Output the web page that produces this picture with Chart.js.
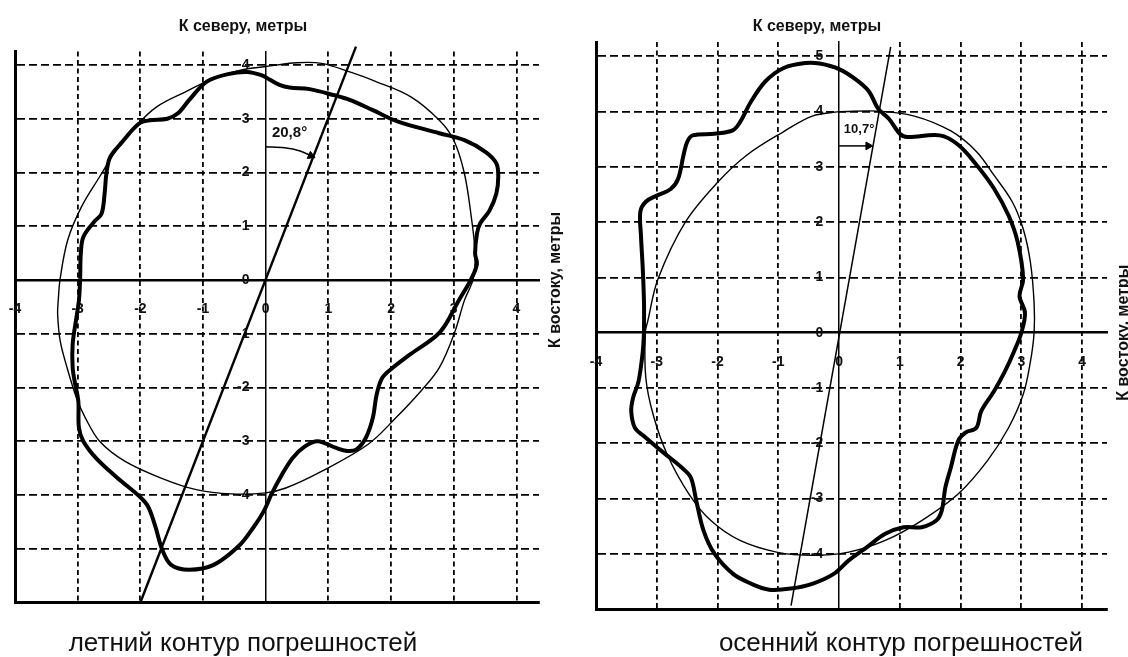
<!DOCTYPE html>
<html lang="ru">
<head>
<meta charset="utf-8">
<title>Контуры погрешностей</title>
<script src="https://cdn.jsdelivr.net/npm/chart.js@4.4.1/dist/chart.umd.min.js"></script>
<style>
  html, body { margin: 0; padding: 0; background: #fff; }
  body { width: 1128px; height: 657px; position: relative; overflow: hidden; }
  canvas { position: absolute; top: 0; }
  #summer { left: 0; }
  #autumn { left: 564px; }
</style>
</head>
<body>
<canvas id="summer" width="564" height="657"></canvas>
<canvas id="autumn" width="564" height="657"></canvas>
<script>
// Error contours of a position fix, metres. x = east, y = north.

// tick labels
const eastLabels = [-4, -3, -2, -1, 0, 1, 2, 3, 4];
const summerNorthLabels = [-4, -3, -2, -1, 0, 1, 2, 3, 4];
const autumnNorthLabels = [-4, -3, -2, -1, 0, 1, 2, 3, 4, 5];

// axis ranges
const summerEastRange = [-4, 4.36];
const summerNorthRange = [-6, 4.25];
const autumnEastRange = [-4, 4.41];
const autumnNorthRange = [-5, 5.26];

// summer: measured error contour (heavy line)
const summerContour = [
  [-2.96, 0.02], [-2.95, 0.49], [-2.91, 0.80], [-2.74, 1.08], [-2.62, 1.23], [-2.57, 1.61],
  [-2.54, 2.00], [-2.48, 2.29], [-2.31, 2.54], [-2.02, 2.91], [-1.85, 2.97], [-1.57, 3.00],
  [-1.40, 3.10], [-1.22, 3.35], [-0.94, 3.69], [-0.60, 3.83], [-0.30, 3.87], [-0.07, 3.81],
  [0.06, 3.73], [0.22, 3.63], [0.38, 3.58], [0.70, 3.55], [1.08, 3.44], [1.34, 3.35],
  [1.71, 3.16], [2.10, 2.95], [2.77, 2.73], [3.17, 2.60], [3.51, 2.38], [3.68, 2.17],
  [3.71, 1.92], [3.68, 1.61], [3.57, 1.29], [3.42, 1.05], [3.37, 0.86], [3.34, 0.49],
  [3.37, 0.30], [3.28, 0.02], [3.08, -0.38], [2.78, -0.97], [2.31, -1.38], [2.03, -1.63],
  [1.86, -1.82], [1.77, -2.13], [1.71, -2.56], [1.60, -2.93], [1.45, -3.15], [1.30, -3.18],
  [1.11, -3.12], [0.83, -3.00], [0.62, -3.10], [0.43, -3.31], [0.26, -3.62], [0.09, -3.99],
  [-0.03, -4.30], [-0.20, -4.61], [-0.43, -4.95], [-0.83, -5.30], [-1.22, -5.39], [-1.51, -5.30],
  [-1.65, -5.02], [-1.77, -4.55], [-1.88, -4.21], [-2.02, -4.02], [-2.37, -3.68], [-2.71, -3.31],
  [-2.91, -3.00], [-2.98, -2.75], [-2.99, -2.25], [-3.04, -1.94], [-3.08, -1.63], [-3.08, -1.19],
  [-3.02, -0.70], [-2.98, -0.38], [-2.96, 0.02]
];

// summer: fitted circle (thin line)
const summerCircle = [
  [0.00, 3.97], [0.49, 4.04], [0.89, 4.03], [1.34, 3.87], [1.74, 3.70], [2.31, 3.41],
  [2.77, 2.97], [3.00, 2.60], [3.17, 1.98], [3.28, 1.17], [3.34, 0.49], [3.31, 0.02],
  [3.17, -0.38], [3.01, -0.99], [2.77, -1.63], [2.48, -2.06], [2.08, -2.56], [1.63, -3.06],
  [0.89, -3.56], [0.32, -3.87], [0.00, -3.96], [-0.54, -3.98], [-1.11, -3.90], [-1.68, -3.68],
  [-2.25, -3.37], [-2.65, -3.00], [-2.88, -2.56], [-3.02, -2.19], [-3.17, -1.63], [-3.28, -1.13],
  [-3.32, -0.63], [-3.31, -0.38], [-3.28, 0.02], [-3.16, 0.74], [-2.94, 1.36], [-2.65, 1.92],
  [-2.42, 2.35], [-2.08, 2.85], [-1.74, 3.22], [-1.28, 3.50], [-0.83, 3.75], [-0.37, 3.91],
  [0.00, 3.97]
];

// summer: major-axis bearing and its angle mark
const summerBearing = [[-2.00, -6.00], [1.44, 4.34]];
const summerArc = [[0.00, 2.48], [0.30, 2.46], [0.55, 2.40], [0.72, 2.31]];

// autumn: measured error contour (heavy line)
const autumnContour = [
  [-3.21, 0.00], [-3.21, 0.54], [-3.23, 1.15], [-3.26, 1.76], [-3.27, 2.19], [-3.18, 2.37],
  [-3.00, 2.48], [-2.77, 2.60], [-2.65, 2.78], [-2.56, 3.21], [-2.50, 3.45], [-2.41, 3.57],
  [-2.05, 3.60], [-1.75, 3.66], [-1.63, 3.81], [-1.45, 4.18], [-1.21, 4.55], [-0.91, 4.79],
  [-0.55, 4.88], [-0.32, 4.87], [0.00, 4.77], [0.28, 4.58], [0.49, 4.37], [0.64, 4.06],
  [0.82, 3.87], [1.00, 3.60], [1.12, 3.54], [1.66, 3.57], [1.96, 3.40], [2.26, 3.04],
  [2.55, 2.61], [2.79, 2.12], [2.94, 1.64], [3.03, 0.97], [2.97, 0.66], [3.06, 0.36],
  [3.00, 0.00], [2.88, -0.34], [2.73, -0.70], [2.55, -1.06], [2.34, -1.42], [2.26, -1.72],
  [2.08, -1.81], [1.96, -1.96], [1.84, -2.44], [1.75, -2.80], [1.69, -3.22], [1.60, -3.40],
  [1.36, -3.52], [1.06, -3.52], [0.76, -3.64], [0.46, -3.88], [0.16, -4.12], [-0.08, -4.36],
  [-0.43, -4.54], [-0.79, -4.63], [-1.15, -4.65], [-1.45, -4.54], [-1.75, -4.36], [-2.05, -4.00],
  [-2.23, -3.58], [-2.35, -3.04], [-2.44, -2.62], [-2.59, -2.44], [-2.89, -2.17], [-3.18, -1.90],
  [-3.36, -1.72], [-3.42, -1.42], [-3.39, -1.18], [-3.30, -0.88], [-3.23, -0.34], [-3.21, 0.00]
];

// autumn: fitted circle (thin line)
const autumnCircle = [
  [0.00, 4.00], [0.64, 4.01], [1.24, 3.92], [1.84, 3.65], [2.26, 3.28], [2.55, 2.85],
  [2.85, 2.37], [3.03, 1.88], [3.15, 1.27], [3.21, 0.54], [3.21, 0.00], [3.15, -0.52],
  [3.03, -1.12], [2.79, -1.72], [2.44, -2.32], [1.96, -2.92], [1.36, -3.40], [0.76, -3.76],
  [0.16, -3.97], [-0.44, -4.03], [-1.03, -3.97], [-1.63, -3.76], [-2.11, -3.40], [-2.47, -2.92],
  [-2.83, -2.20], [-3.06, -1.48], [-3.18, -0.82], [-3.19, 0.00], [-3.15, 0.20], [-2.98, 0.97],
  [-2.53, 2.00], [-1.99, 2.73], [-1.51, 3.22], [-0.91, 3.64], [-0.44, 3.92], [0.00, 4.00]
];

// autumn: major-axis bearing and its angle mark
const autumnBearing = [[-0.79, -4.94], [0.85, 5.17]];
const autumnArc = [[0.00, 3.38], [0.48, 3.38]];

const FONT = '"Liberation Sans", Arial, sans-serif';
const INK = '#111';
const CLEAR = 'rgba(0,0,0,0)';

const toPoints = arr => arr.map(([x, y]) => ({ x, y }));

// titles, side label, angle value and caption
const panelText = {
  id: 'panelText',
  afterDraw(chart, args, o) {
    const { ctx } = chart;
    const sx = chart.scales.x, sy = chart.scales.y;
    ctx.save();
    ctx.fillStyle = INK;
    ctx.textAlign = 'center';
    ctx.textBaseline = 'middle';

    ctx.font = 'bold 16px ' + FONT;
    ctx.fillText(o.north, o.northAt[0], o.northAt[1]);

    ctx.save();
    ctx.translate(o.eastX, sy.getPixelForValue(0));
    ctx.rotate(-Math.PI / 2);
    ctx.fillText(o.east, 0, 0);
    ctx.restore();

    ctx.font = 'bold ' + o.angleSize + 'px ' + FONT;
    ctx.fillText(o.angle, sx.getPixelForValue(o.angleAt[0]), sy.getPixelForValue(o.angleAt[1]));

    ctx.font = '26px ' + FONT;
    ctx.textBaseline = 'alphabetic';
    ctx.fillText(o.caption, o.captionAt[0], o.captionAt[1]);
    ctx.restore();
  }
};

function buildPanel(id, p) {
  const [xMin, xMax] = p.eastRange;
  const [yMin, yMax] = p.northRange;
  const tickFont = { family: FONT, size: 14, weight: 'bold' };
  const line = (data, width, extra) => Object.assign({
    data: toPoints(data), showLine: true, borderColor: '#000', borderWidth: width,
    pointRadius: 0, fill: false, tension: 0.35
  }, extra || {});
  const tip = p.arc[p.arc.length - 1];

  return new Chart(document.getElementById(id), {
    type: 'scatter',
    data: {
      datasets: [
        line(p.circle, 1.4),
        line(p.contour, 4),
        line(p.bearing, p.bearingWidth, { tension: 0, clip: false }),
        line(p.arc, 1.5),
        {
          data: toPoints([tip]), showLine: false, pointStyle: 'triangle',
          pointRadius: 4.5, pointRotation: p.arrowRotation,
          pointBackgroundColor: '#000', pointBorderColor: '#000', pointBorderWidth: 1
        }
      ]
    },
    options: {
      responsive: false,
      animation: false,
      events: [],
      layout: { padding: p.padding },
      plugins: {
        legend: { display: false },
        tooltip: { enabled: false },
        panelText: p.text
      },
      scales: {
        x: {
          type: 'linear', position: 'bottom', min: xMin, max: xMax,
          ticks: { display: false, stepSize: 1, includeBounds: false },
          grid: {
            drawTicks: false, lineWidth: 1.8,
            color: c => (c.tick && (c.tick.value === 0 || c.tick.value === xMin)) ? CLEAR : '#000'
          },
          border: { width: 3, color: '#000', dash: [5, 3.5] }
        },
        y: {
          type: 'linear', position: 'left', min: yMin, max: yMax,
          ticks: { display: false, stepSize: 1, includeBounds: false },
          grid: {
            drawTicks: false, lineWidth: 1.8,
            color: c => (c.tick && (c.tick.value === 0 || c.tick.value === yMin)) ? CLEAR : '#000'
          },
          border: { width: 3, color: '#000', dash: [8, 4] }
        },
        xZero: {
          axis: 'x', type: 'linear', position: { y: 0 }, min: xMin, max: xMax,
          ticks: {
            stepSize: 1, includeBounds: false, padding: 1, autoSkip: false, maxRotation: 0,
            font: tickFont, color: INK,
            callback: v => eastLabels.includes(v) ? String(v) : ''
          },
          grid: { display: true, drawOnChartArea: false, drawTicks: true, tickLength: 20, tickColor: CLEAR },
          border: { width: 2.4, color: '#000' }
        },
        yZero: {
          axis: 'y', type: 'linear', position: { x: 0 }, min: yMin, max: yMax,
          ticks: { display: false },
          grid: { display: false, drawTicks: false },
          border: { width: 1.5, color: '#000' }
        },
        yLabels: {
          axis: 'y', type: 'linear', position: { x: -0.26 }, min: yMin, max: yMax,
          ticks: {
            stepSize: 1, includeBounds: false, padding: 0, autoSkip: false,
            font: tickFont, color: INK,
            callback: v => p.northLabels.includes(v) ? String(v) : ''
          },
          grid: { display: false, drawTicks: false },
          border: { display: false }
        }
      }
    },
    plugins: [panelText]
  });
}

buildPanel('summer', {
  eastRange: summerEastRange,
  northRange: summerNorthRange,
  northLabels: summerNorthLabels,
  contour: summerContour,
  circle: summerCircle,
  bearing: summerBearing,
  bearingWidth: 2.4,
  arc: summerArc,
  arrowRotation: 114,
  padding: { left: 15, right: 25, top: 51.5, bottom: 54.5 },
  text: {
    north: 'К северу, метры', northAt: [243, 27],
    east: 'К востоку, метры', eastX: 556,
    angle: '20,8°', angleAt: [0.38, 2.74], angleSize: 15,
    caption: 'летний контур погрешностей', captionAt: [243, 651]
  }
});

buildPanel('autumn', {
  eastRange: autumnEastRange,
  northRange: autumnNorthRange,
  northLabels: autumnNorthLabels,
  contour: autumnContour,
  circle: autumnCircle,
  bearing: autumnBearing,
  bearingWidth: 1.5,
  arc: autumnArc,
  arrowRotation: 90,
  padding: { left: 32, right: 21, top: 42, bottom: 48 },
  text: {
    north: 'К северу, метры', northAt: [253, 27],
    east: 'К востоку, метры', eastX: 560,
    angle: '10,7°', angleAt: [0.33, 3.67], angleSize: 13,
    caption: 'осенний контур погрешностей', captionAt: [337, 651]
  }
});
</script>
</body>
</html>
